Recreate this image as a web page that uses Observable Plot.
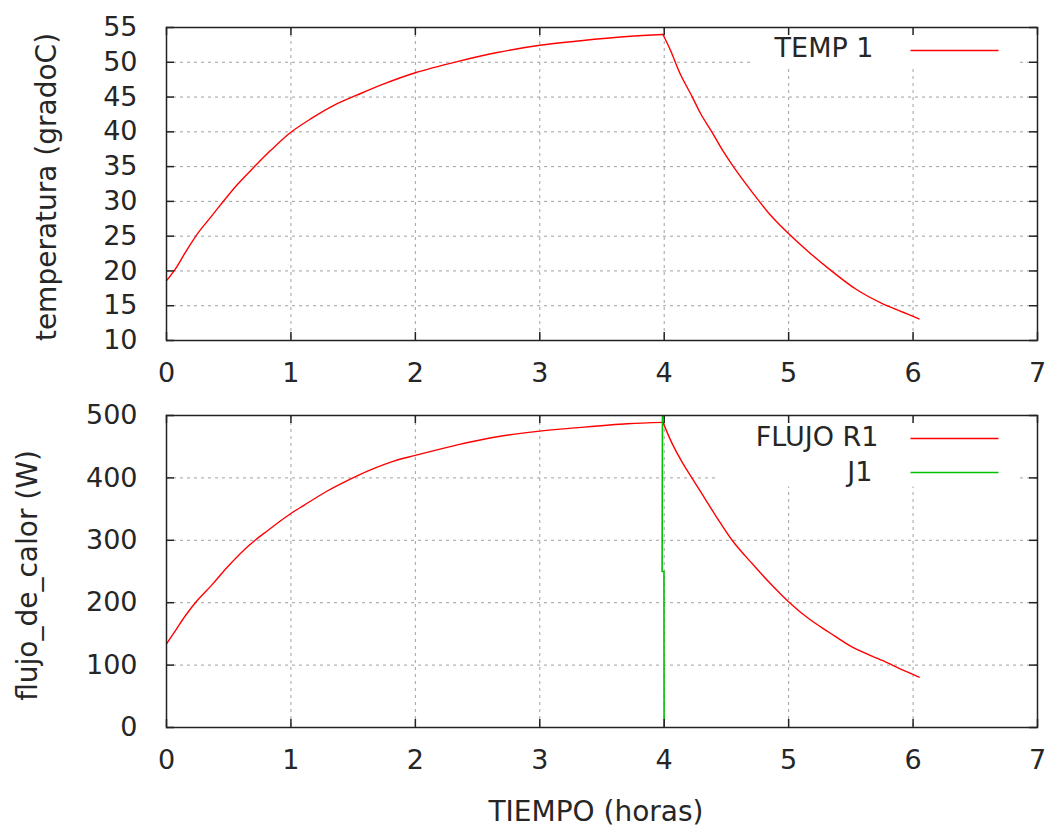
<!DOCTYPE html>
<html>
<head>
<meta charset="utf-8">
<script src="https://cdn.jsdelivr.net/npm/d3@7"></script>
<script src="https://cdn.jsdelivr.net/npm/@observablehq/plot@0.6"></script>
<style>
  html, body { margin: 0; padding: 0; background: white; }
  #chart svg { display: block; }
</style>
</head>
<body>
<div id="chart"></div>
<script>
// ---- data ----
const xTicks = [0, 1, 2, 3, 4, 5, 6, 7];
const tempTicks = [10, 15, 20, 25, 30, 35, 40, 45, 50, 55];
const flowTicks = [0, 100, 200, 300, 400, 500];

// heating phase (up to the switch-off near t = 4 h) and cooling phase
const tempTimeUp = [0, 0.072, 0.153, 0.247, 0.354, 0.434, 0.568, 0.702, 0.836, 0.997, 1.158, 1.345, 1.533, 1.747,
                    2.0, 2.337, 2.658, 3.0, 3.33, 3.703, 3.99];
const temp1Up    = [18.6, 20.3, 22.7, 25.3, 27.7, 29.5, 32.4, 34.9, 37.3, 39.9, 41.85, 43.8, 45.3, 46.9,
                    48.5, 50.1, 51.4, 52.45, 53.1, 53.7, 54.0];
const tempTimeDown = [3.99, 4.051, 4.132, 4.226, 4.293, 4.386, 4.467, 4.56, 4.708, 4.855, 5.003, 5.163, 5.324, 5.539, 5.753, 5.914, 6.048];
const temp1Down    = [54.0, 51.7, 48.2, 45.0, 42.6, 39.9, 37.4, 34.9, 31.3, 28.0, 25.3, 22.7, 20.3, 17.4, 15.3, 14.1, 13.1];

const flowTimeUp = [0, 0.072, 0.153, 0.247, 0.367, 0.488, 0.662, 0.809, 0.997, 1.104, 1.292, 1.453, 1.64, 1.827,
                    2.0, 2.337, 2.658, 3.0, 3.33, 3.703, 3.99];
const flujoR1Up  = [134, 155.4, 179.5, 203.5, 229, 256.9, 291.7, 315, 342.5, 356, 379, 395.8, 413, 427,
                    436, 453, 466, 475, 481, 486.7, 489];
const flowTimeDown = [3.99, 4.065, 4.145, 4.239, 4.413, 4.547, 4.708, 4.855, 5.003, 5.163, 5.324, 5.512, 5.753, 5.914, 6.048];
const flujoR1Down  = [489, 454.6, 425, 395, 339.7, 299.7, 262.3, 230.3, 200.8, 174.2, 152.7, 128.7, 107.4, 92.5, 80.6];

const j1Time = [3.986, 3.983, 3.998, 3.999];
const j1     = [500, 250, 250, 0];

const toRows = (ts, vs, seg) => ts.map((t, i) => ({t, v: vs[i], seg}));
const seriesTemp = [...toRows(tempTimeUp, temp1Up, "up"), ...toRows(tempTimeDown, temp1Down, "down")];
const seriesFlow = [...toRows(flowTimeUp, flujoR1Up, "up"), ...toRows(flowTimeDown, flujoR1Down, "down")];
const seriesJ1 = toRows(j1Time, j1, "j1");

// ---- styling ----
const W = 1052;
const ML = 166, MR = 15;
const FW = W - ML - MR;
const INK = "#262626";
const FRAME = "#222";
const GRID = {stroke: "#a0a0a0", strokeDasharray: "3,4", strokeWidth: 1};
const FS = 27;
const RED = "#ff0000", GREEN = "#00c000";
const TICK = 8;

function innerTicks(yTicks, FH) {
  return [
    Plot.ruleX(xTicks, {stroke: FRAME, strokeWidth: 1.5, insetTop: FH - TICK}),
    Plot.ruleX(xTicks, {stroke: FRAME, strokeWidth: 1.5, insetBottom: FH - TICK}),
    Plot.ruleY(yTicks, {stroke: FRAME, strokeWidth: 1.5, insetRight: FW - TICK}),
    Plot.ruleY(yTicks, {stroke: FRAME, strokeWidth: 1.5, insetLeft: FW - TICK})
  ];
}

function legendLine(color, centerY, FH) {
  return Plot.frame({fill: color, stroke: "none",
    insetLeft: 744, insetRight: 39, insetTop: centerY - 0.75, insetBottom: FH - centerY - 0.75});
}

// ---- top panel ----
const H1 = 390, MT1 = 27, MB1 = 50, FH1 = H1 - MT1 - MB1;
const topPanel = Plot.plot({
  width: W, height: H1,
  marginTop: MT1, marginBottom: MB1, marginLeft: ML, marginRight: MR,
  style: {fontFamily: "DejaVu Sans", fontSize: FS + "px", color: INK, background: "white", overflow: "visible"},
  x: {domain: [0, 7]},
  y: {domain: [10, 55]},
  marks: [
    Plot.ruleX(xTicks.slice(1, -1), GRID),
    Plot.ruleY(tempTicks.slice(1, -1), GRID),
    Plot.frame({fill: "white", stroke: "none", insetLeft: 586, insetRight: 20, insetBottom: 275}),
    Plot.line(seriesTemp, {x: "t", y: "v", z: "seg", stroke: RED, strokeWidth: 1.4, curve: "catmull-rom"}),
    ...innerTicks(tempTicks, FH1),
    Plot.frame({stroke: FRAME, strokeWidth: 1.5}),
    Plot.axisX({ticks: xTicks, tickSize: 0, tickPadding: 22, label: null, fontSize: FS, tickFormat: d => String(d)}),
    Plot.axisY({ticks: tempTicks, tickSize: 0, tickPadding: 29, label: null, fontSize: FS, tickFormat: d => String(d)}),
    Plot.text(["temperatura (gradoC)"], {frameAnchor: "left", rotate: -90, dx: -119, dy: 3,
      lineAnchor: "middle", textAnchor: "middle", fontSize: 28, fill: INK}),
    Plot.text(["TEMP 1"], {frameAnchor: "top-right", dx: -(1037 - 873), dy: 21,
      textAnchor: "end", lineAnchor: "middle", fontSize: FS, fill: INK}),
    legendLine(RED, 23, FH1)
  ]
});

// ---- bottom panel ----
const H2 = 442, MT2 = 25, MB2 = 105, FH2 = H2 - MT2 - MB2;
const bottomPanel = Plot.plot({
  width: W, height: H2,
  marginTop: MT2, marginBottom: MB2, marginLeft: ML, marginRight: MR,
  style: {fontFamily: "DejaVu Sans", fontSize: FS + "px", color: INK, background: "white", overflow: "visible"},
  x: {domain: [0, 7]},
  y: {domain: [0, 500]},
  marks: [
    Plot.ruleX(xTicks.slice(1, -1), GRID),
    Plot.ruleY(flowTicks.slice(1, -1), GRID),
    Plot.frame({fill: "white", stroke: "none", insetLeft: 549, insetRight: 20, insetBottom: 241}),
    Plot.line(seriesFlow, {x: "t", y: "v", z: "seg", stroke: RED, strokeWidth: 1.4, curve: "catmull-rom"}),
    Plot.line(seriesJ1, {x: "t", y: "v", stroke: GREEN, strokeWidth: 1.6, clip: true}),
    ...innerTicks(flowTicks, FH2),
    Plot.frame({stroke: FRAME, strokeWidth: 1.5}),
    Plot.axisX({ticks: xTicks, tickSize: 0, tickPadding: 22, label: null, fontSize: FS, tickFormat: d => String(d)}),
    Plot.axisY({ticks: flowTicks, tickSize: 0, tickPadding: 29, label: null, fontSize: FS, tickFormat: d => String(d)}),
    Plot.text(["flujo_de_calor (W)"], {frameAnchor: "left", rotate: -90, dx: -138, dy: 4,
      lineAnchor: "middle", textAnchor: "middle", fontSize: 28, fill: INK}),
    Plot.text(["TIEMPO (horas)"], {frameAnchor: "bottom", dx: -6, dy: 85,
      lineAnchor: "middle", textAnchor: "middle", fontSize: 28, fill: INK}),
    Plot.text(["FLUJO R1"], {frameAnchor: "top-right", dx: -(1037 - 878), dy: 22,
      textAnchor: "end", lineAnchor: "middle", fontSize: FS, fill: INK}),
    Plot.text(["J1"], {frameAnchor: "top-right", dx: -(1037 - 872), dy: 57,
      textAnchor: "end", lineAnchor: "middle", fontSize: FS, fill: INK}),
    legendLine(RED, 23, FH2),
    legendLine(GREEN, 57, FH2)
  ]
});

const chart = document.getElementById("chart");
chart.appendChild(topPanel);
chart.appendChild(bottomPanel);
</script>
</body>
</html>
